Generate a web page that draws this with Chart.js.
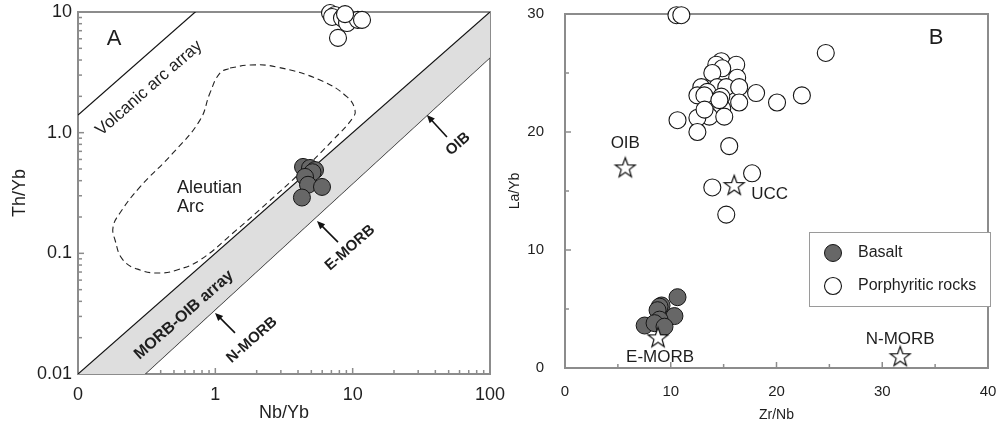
<!DOCTYPE html>
<html>
<head>
<meta charset="utf-8">
<script src="https://cdn.jsdelivr.net/npm/chart.js@4.4.0/dist/chart.umd.min.js"></script>
<style>
  html, body { margin: 0; padding: 0; background: #fff; }
  #wrap { position: relative; width: 998px; height: 424px; overflow: hidden; }
  #chartA { position: absolute; left: 0; top: 0; }
  #chartB { position: absolute; left: 500px; top: 0; }
</style>
</head>
<body>
<div id="wrap">
  <canvas id="chartA" width="520" height="424"></canvas>
  <canvas id="chartB" width="500" height="424"></canvas>
</div>
<script>
// ---- panel A : Th/Yb vs Nb/Yb (log-log) ----
const basaltNbYb = [4.35, 4.89, 5.32, 5.1, 4.50, 4.73, 5.98, 4.27];
const basaltThYb = [0.52, 0.51, 0.49, 0.47, 0.43, 0.37, 0.355, 0.29];
const porphNbYb = [6.84, 7.43, 7.08, 8.36, 9.1, 10.9, 11.7, 7.82, 8.8];
const porphThYb = [9.8, 9.44, 9.1, 8.9, 8.1, 8.6, 8.6, 6.1, 9.6];

const arcNbYb = [0.1, 0.8];
const arcThYb = [1.4, 11.2];
const morbUpperNbYb = [0.1, 100];
const morbUpperThYb = [0.01, 10];
const morbLowerNbYb = [0.1, 100];
const morbLowerThYb = [0.0031, 4.2];

// Aleutian arc field outline (closed)
const aleutNbYb = [1.28, 1.79, 2.81, 5.78, 9.10, 10.4, 10.0, 7.19, 4.14, 2.38, 1.35, 0.773,
  0.526, 0.396, 0.283, 0.213, 0.186, 0.180, 0.202, 0.283, 0.492, 0.773, 0.914, 1.08, 1.28];
const aleutThYb = [3.43, 3.64, 3.50, 2.73, 1.98, 1.54, 1.32, 0.87, 0.464, 0.261, 0.148, 0.088,
  0.0728, 0.0687, 0.0728, 0.088, 0.129, 0.165, 0.216, 0.355, 0.679, 1.27, 2.13, 3.12, 3.43];

const xTicksA = [0.1, 1, 10, 100];
const xTickLabelsA = ['0', '1', '10', '100'];
const yTicksA = [0.01, 0.1, 1, 10];
const yTickLabelsA = ['0.01', '0.1', '1.0', '10'];

// ---- panel B : La/Yb vs Zr/Nb ----
const basaltZrNb = [10.64, 9.13, 8.94, 8.75, 10.35, 8.94, 7.53, 8.47, 9.41];
const basaltLaYb = [6.0, 5.3, 5.2, 4.9, 4.4, 4.1, 3.6, 3.8, 3.5];
const porphZrNb = [10.54, 11.0, 24.66, 14.78, 16.19, 14.31, 14.87, 13.93, 16.28, 12.89, 14.4,
  15.25, 16.47, 12.52, 13.46, 13.18, 14.78, 16.47, 14.87, 13.65, 12.52, 15.06, 10.64, 12.52,
  18.07, 20.05, 22.4, 15.53, 17.69, 13.93, 15.25, 14.6, 13.2];
const porphLaYb = [29.9, 29.9, 26.7, 26.0, 25.7, 25.7, 25.4, 25.0, 24.6, 23.8, 23.8,
  23.8, 23.8, 23.1, 23.4, 23.1, 23.0, 22.5, 22.0, 21.3, 21.2, 21.3, 21.0, 20.0,
  23.3, 22.5, 23.1, 18.8, 16.5, 15.3, 13.0, 22.7, 21.9];
const refNames = ['OIB', 'UCC', 'E-MORB', 'N-MORB'];
const refZrNb = [5.7, 16.0, 8.8, 31.7];
const refLaYb = [17.0, 15.5, 2.6, 1.0];

const xTicksB = [0, 10, 20, 30, 40];
const yTicksB = [0, 10, 20, 30];

const FONT = "'Liberation Sans', Arial, sans-serif";
const INK = '#1e1e1e';
const FRAME = '#8c8c8c';
const BASALT_FILL = '#676767';

function pts(xs, ys) { return xs.map((v, i) => ({ x: v, y: ys[i] })); }

const starImg = (function () {
  const c = document.createElement('canvas');
  c.width = 24; c.height = 24;
  const g = c.getContext('2d');
  g.beginPath();
  for (let i = 0; i < 10; i++) {
    const r = i % 2 === 0 ? 10.5 : 4.3;
    const a = -Math.PI / 2 + i * Math.PI / 5;
    const px = 12 + r * Math.cos(a), py = 12.8 + r * Math.sin(a);
    if (i) g.lineTo(px, py); else g.moveTo(px, py);
  }
  g.closePath();
  g.fillStyle = '#fff'; g.fill();
  g.lineWidth = 1.2; g.strokeStyle = '#111'; g.stroke();
  return c;
})();

function logMinors(lo, hi) {
  const out = [];
  for (let d = lo; d < hi; d *= 10) for (let k = 2; k <= 9; k++) out.push(d * k);
  return out;
}

function drawFrame(chart, xMinor, xMajor, yMinor, yMajor) {
  const { ctx, chartArea: a, scales: { x, y } } = chart;
  ctx.save();
  ctx.strokeStyle = FRAME;
  ctx.lineWidth = 1.5;
  const tick = (x0, y0, x1, y1) => { ctx.beginPath(); ctx.moveTo(x0, y0); ctx.lineTo(x1, y1); ctx.stroke(); };
  xMinor.forEach(v => { const p = x.getPixelForValue(v); tick(p, a.bottom, p, a.bottom - 4); });
  xMajor.forEach(v => { const p = x.getPixelForValue(v); tick(p, a.bottom, p, a.bottom - 6); });
  yMinor.forEach(v => { const p = y.getPixelForValue(v); tick(a.left, p, a.left + 4, p); });
  yMajor.forEach(v => { const p = y.getPixelForValue(v); tick(a.left, p, a.left + 6, p); });
  ctx.lineWidth = 2;
  ctx.strokeRect(a.left, a.top, a.right - a.left, a.bottom - a.top);
  ctx.restore();
}

function text(ctx, str, px, py, font, angle, align) {
  ctx.save();
  ctx.translate(px, py);
  ctx.rotate(angle || 0);
  ctx.font = font;
  ctx.fillStyle = INK;
  ctx.textAlign = align || 'center';
  ctx.textBaseline = 'middle';
  ctx.fillText(str, 0, 0);
  ctx.restore();
}

function arrow(ctx, x0, y0, x1, y1) {
  const ang = Math.atan2(y1 - y0, x1 - x0);
  ctx.save();
  ctx.strokeStyle = '#111'; ctx.fillStyle = '#111'; ctx.lineWidth = 1.6;
  ctx.beginPath();
  ctx.moveTo(x0, y0);
  ctx.lineTo(x1 - 5 * Math.cos(ang), y1 - 5 * Math.sin(ang));
  ctx.stroke();
  ctx.beginPath();
  ctx.moveTo(x1, y1);
  ctx.lineTo(x1 - 8 * Math.cos(ang) + 3.5 * Math.sin(ang), y1 - 8 * Math.sin(ang) - 3.5 * Math.cos(ang));
  ctx.lineTo(x1 - 8 * Math.cos(ang) - 3.5 * Math.sin(ang), y1 - 8 * Math.sin(ang) + 3.5 * Math.cos(ang));
  ctx.closePath();
  ctx.fill();
  ctx.restore();
}

// ---------- Panel A ----------
const framePluginA = {
  id: 'frameA',
  beforeDatasetsDraw(chart) {
    drawFrame(chart, logMinors(0.1, 100), [1, 10], logMinors(0.01, 10), [0.1, 1]);
  }
};

const labelPluginA = {
  id: 'labelsA',
  afterDatasetsDraw(chart) {
    const { ctx, scales: { x, y } } = chart;
    const P = (vx, vy) => [x.getPixelForValue(vx), y.getPixelForValue(vy)];
    const p1 = P(1, 0.1), p2 = P(10, 1);
    const ang = Math.atan2(p2[1] - p1[1], p2[0] - p1[0]);
    let q;
    q = P(0.183, 5.97); text(ctx, 'A', q[0], q[1], '22px ' + FONT);
    q = P(0.329, 2.34); text(ctx, 'Volcanic arc array', q[0], q[1], '17px ' + FONT, ang);
    q = P(0.526, 0.347); text(ctx, 'Aleutian', q[0], q[1], '18px ' + FONT, 0, 'left');
    q = P(0.526, 0.242); text(ctx, 'Arc', q[0], q[1], '18px ' + FONT, 0, 'left');
    q = P(0.591, 0.0308); text(ctx, 'MORB-OIB array', q[0], q[1], 'bold 16px ' + FONT, ang);
    q = P(1.85, 0.0191); text(ctx, 'N-MORB', q[0], q[1], 'bold 15px ' + FONT, ang);
    q = P(9.57, 0.111); text(ctx, 'E-MORB', q[0], q[1], 'bold 15px ' + FONT, ang);
    q = P(58.5, 0.805); text(ctx, 'OIB', q[0], q[1], 'bold 15px ' + FONT, ang);
    let t, h;
    t = P(1.39, 0.0219); h = P(0.995, 0.0321); arrow(ctx, t[0], t[1], h[0], h[1]);
    t = P(7.82, 0.124); h = P(5.50, 0.185); arrow(ctx, t[0], t[1], h[0], h[1]);
    t = P(48.6, 0.92); h = P(34.7, 1.40); arrow(ctx, t[0], t[1], h[0], h[1]);
  }
};

new Chart(document.getElementById('chartA'), {
  type: 'scatter',
  data: {
    datasets: [
      { label: 'Basalt', data: pts(basaltNbYb, basaltThYb), order: 0, clip: false,
        pointRadius: 8.5, backgroundColor: BASALT_FILL, borderColor: '#151515', borderWidth: 1 },
      { label: 'Porphyritic rocks', data: pts(porphNbYb, porphThYb), order: 1, clip: false,
        pointRadius: 8.5, backgroundColor: '#fff', borderColor: '#151515', borderWidth: 1.1 },
      { label: 'Aleutian Arc', data: pts(aleutNbYb, aleutThYb), order: 4, showLine: true, clip: 0,
        tension: 0.45, pointRadius: 0, borderColor: '#222', borderWidth: 1.1, borderDash: [6, 4] },
      { label: 'Volcanic arc array', data: pts(arcNbYb, arcThYb), order: 5, showLine: true, clip: 0,
        pointRadius: 0, borderColor: '#111', borderWidth: 1.2 },
      { label: 'MORB-OIB upper', data: pts(morbUpperNbYb, morbUpperThYb), order: 6, showLine: true, clip: 0,
        pointRadius: 0, borderColor: '#111', borderWidth: 1.2, fill: '+1', backgroundColor: '#dedede' },
      { label: 'MORB-OIB lower', data: pts(morbLowerNbYb, morbLowerThYb), order: 7, showLine: true, clip: 0,
        pointRadius: 0, borderColor: '#111', borderWidth: 1.2 }
    ]
  },
  options: {
    responsive: false,
    animation: false,
    events: [],
    layout: { padding: { left: 0, right: 30, top: 12, bottom: 0 } },
    plugins: { legend: { display: false }, tooltip: { enabled: false } },
    scales: {
      x: {
        type: 'logarithmic', min: 0.1, max: 100,
        grid: { display: false, drawTicks: true, tickLength: 10 }, border: { display: false },
        afterBuildTicks: s => { s.ticks = xTicksA.map(v => ({ value: v })); },
        afterFit: s => { s.height = 50; },
        ticks: { callback: (v, i) => xTickLabelsA[i], font: { family: FONT, size: 18 }, color: INK,
          padding: 0, maxRotation: 0, autoSkip: false },
        title: { display: true, text: 'Nb/Yb', font: { family: FONT, size: 18 }, color: INK,
          padding: { top: 0, bottom: 0 } }
      },
      y: {
        type: 'logarithmic', min: 0.01, max: 10,
        grid: { display: false, drawTicks: true, tickLength: 6 }, border: { display: false },
        afterBuildTicks: s => { s.ticks = yTicksA.map(v => ({ value: v })); },
        afterFit: s => { s.width = 78; },
        ticks: { callback: (v, i) => yTickLabelsA[i], font: { family: FONT, size: 18 }, color: INK,
          padding: 0, autoSkip: false },
        title: { display: true, text: 'Th/Yb', font: { family: FONT, size: 18 }, color: INK,
          padding: { top: 9, bottom: 0 } }
      }
    }
  },
  plugins: [framePluginA, labelPluginA]
});

// ---------- Panel B ----------
const framePluginB = {
  id: 'frameB',
  beforeDatasetsDraw(chart) {
    drawFrame(chart, [5, 15, 25, 35], [10, 20, 30], [5, 15, 25], [10, 20]);
  }
};

const labelPluginB = {
  id: 'labelsB',
  afterDatasetsDraw(chart) {
    const { ctx, chartArea: a, scales: { x, y } } = chart;
    const f = '17px ' + FONT;
    const offs = { 'OIB': [0, -24, 'center'], 'UCC': [17, 9, 'left'], 'E-MORB': [2, 20, 'center'], 'N-MORB': [0, -17, 'center'] };
    refNames.forEach((n, i) => {
      const px = x.getPixelForValue(refZrNb[i]), py = y.getPixelForValue(refLaYb[i]);
      const o = offs[n];
      text(ctx, n, px + o[0], py + o[1], f, 0, o[2]);
    });
    text(ctx, 'B', x.getPixelForValue(35.1), y.getPixelForValue(28.0), '22px ' + FONT);

    // legend box
    const ds = chart.data.datasets;
    const L = a.right - 179, T = a.top + 218, W = 181, H = 74;
    ctx.save();
    ctx.fillStyle = '#fff';
    ctx.fillRect(L, T, W, H);
    ctx.strokeStyle = '#9a9a9a'; ctx.lineWidth = 1;
    ctx.strokeRect(L + 0.5, T + 0.5, W, H);
    [[0, 21], [1, 54]].forEach(([k, dy]) => {
      ctx.beginPath();
      ctx.arc(L + 24, T + dy, 8.5, 0, Math.PI * 2);
      ctx.fillStyle = ds[k].backgroundColor; ctx.fill();
      ctx.lineWidth = ds[k].borderWidth; ctx.strokeStyle = ds[k].borderColor; ctx.stroke();
      text(ctx, ds[k].label, L + 49, T + dy, '16px ' + FONT, 0, 'left');
    });
    ctx.restore();
  }
};

new Chart(document.getElementById('chartB'), {
  type: 'scatter',
  data: {
    datasets: [
      { label: 'Basalt', data: pts(basaltZrNb, basaltLaYb), order: 2, clip: false,
        pointRadius: 8.5, backgroundColor: BASALT_FILL, borderColor: '#151515', borderWidth: 1 },
      { label: 'Porphyritic rocks', data: pts(porphZrNb, porphLaYb), order: 1, clip: false,
        pointRadius: 8.5, backgroundColor: '#fff', borderColor: '#151515', borderWidth: 1.1 },
      { label: 'Reference', data: pts(refZrNb, refLaYb), order: 0, clip: false,
        pointStyle: starImg, pointRadius: 11 }
    ]
  },
  options: {
    responsive: false,
    animation: false,
    events: [],
    layout: { padding: { left: 0, right: 10, top: 14, bottom: 0 } },
    plugins: { legend: { display: false }, tooltip: { enabled: false } },
    scales: {
      x: {
        type: 'linear', min: 0, max: 40,
        grid: { display: false, drawTicks: true, tickLength: 15 }, border: { display: false },
        afterBuildTicks: s => { s.ticks = xTicksB.map(v => ({ value: v })); },
        afterFit: s => { s.height = 56; },
        ticks: { font: { family: FONT, size: 15 }, color: INK, padding: 0, maxRotation: 0, autoSkip: false },
        title: { display: true, text: 'Zr/Nb', font: { family: FONT, size: 14 }, color: INK,
          padding: { top: 0, bottom: 0 } }
      },
      y: {
        type: 'linear', min: 0, max: 30,
        grid: { display: false, drawTicks: true, tickLength: 21 }, border: { display: false },
        afterBuildTicks: s => { s.ticks = yTicksB.map(v => ({ value: v })); },
        afterFit: s => { s.width = 65; },
        ticks: { font: { family: FONT, size: 15 }, color: INK, padding: 0, autoSkip: false },
        title: { display: true, text: 'La/Yb', font: { family: FONT, size: 14 }, color: INK,
          padding: { top: 7, bottom: 0 } }
      }
    }
  },
  plugins: [framePluginB, labelPluginB]
});
</script>
</body>
</html>
